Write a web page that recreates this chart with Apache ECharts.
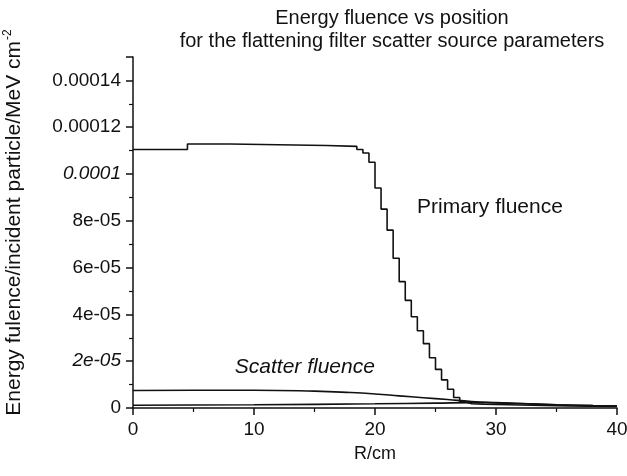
<!DOCTYPE html>
<html>
<head>
<meta charset="utf-8">
<script src="https://cdn.jsdelivr.net/npm/echarts@6/dist/echarts.min.js"></script>
<style>
html, body { margin: 0; padding: 0; background: #fff; }
#chart { width: 627px; height: 476px; }
</style>
</head>
<body>
<div id="chart"></div>
<script>
// primary fluence (step histogram), R in cm
var primaryR = [0, 4.5, 8, 12, 16, 18.5, 19, 19.5, 20, 20.5, 21, 21.5, 22, 22.5, 23, 23.5, 24, 24.5, 25, 25.5, 26, 26.5, 27, 27.5, 28, 29, 30, 31, 32, 33, 34, 35, 36, 38, 40];
var primaryFluence = [1.105e-4, 1.128e-4, 1.125e-4, 1.122e-4, 1.118e-4, 1.105e-4, 1.09e-4, 1.05e-4, 9.4e-5, 8.5e-5, 7.6e-5, 6.4e-5, 5.4e-5, 4.6e-5, 3.9e-5, 3.3e-5, 2.75e-5, 2.15e-5, 1.65e-5, 1.2e-5, 8.0e-6, 4.5e-6, 2.6e-6, 1.8e-6, 1.6e-6, 1.5e-6, 1.4e-6, 1.3e-6, 1.2e-6, 1.1e-6, 1.0e-6, 0.9e-6, 0.8e-6, 0.7e-6, 0.6e-6];

// scatter fluence curves
var scatterR = [0, 5, 10, 15, 18, 20, 22, 24, 26, 28, 30, 32, 35, 38, 40];
var scatterFluence = [7.5e-6, 7.6e-6, 7.6e-6, 7.2e-6, 6.6e-6, 6.0e-6, 5.2e-6, 4.4e-6, 3.6e-6, 2.8e-6, 2.3e-6, 1.9e-6, 1.4e-6, 1.0e-6, 0.8e-6];
var scatter2R = [0, 10, 20, 25, 28, 30, 32, 35, 38, 40];
var scatter2Fluence = [1.2e-6, 1.4e-6, 1.8e-6, 2.1e-6, 2.3e-6, 2.2e-6, 1.9e-6, 1.4e-6, 1.0e-6, 0.8e-6];

var yTickLabels = ['0', '2e-05', '4e-05', '6e-05', '8e-05', '0.0001', '0.00012', '0.00014'];
var italicTicks = ['2e-05', '0.0001'];

function pairs(xs, ys) {
	var out = [];
	for (var i = 0; i < xs.length; i++) out.push([xs[i], ys[i]]);
	return out;
}

var font = 'Liberation Sans, Arial, sans-serif';
var ink = '#111';

var myChart = echarts.init(document.getElementById('chart'));
myChart.setOption({
	animation: false,
	backgroundColor: '#fff',
	title: {
		text: 'Energy fluence vs position\nfor the flattening filter scatter source parameters',
		left: 387,
		top: 2,
		textAlign: 'center',
		textStyle: { fontFamily: font, fontSize: 20, fontWeight: 'normal', color: ink, lineHeight: 23 }
	},
	grid: { left: 133, right: 10, top: 57, bottom: 68, outerBoundsMode: 'none', containLabel: false },
	xAxis: {
		type: 'value',
		min: 0,
		max: 40,
		interval: 10,
		name: 'R/cm',
		nameLocation: 'middle',
		nameGap: 37,
		nameTextStyle: { fontFamily: font, fontSize: 18, color: ink },
		axisLine: { lineStyle: { color: ink, width: 1.5 } },
		axisTick: { inside: false, length: 7, lineStyle: { color: ink, width: 1.5 } },
		minorTick: { show: true, splitNumber: 2, length: 4, lineStyle: { color: ink, width: 1.2 } },
		axisLabel: { fontFamily: font, fontSize: 19, color: ink, margin: 12 },
		splitLine: { show: false }
	},
	yAxis: {
		type: 'value',
		min: 0,
		max: 0.00015,
		interval: 0.00002,
		name: 'Energy fulence/incident particle/MeV cm{sup|-2}',
		nameLocation: 'middle',
		nameGap: 107,
		nameRotate: 90,
		nameTextStyle: {
			fontFamily: font, fontSize: 21, color: ink,
			padding: [0, 0, 0, 20],
			rich: { sup: { fontFamily: font, fontSize: 12, color: ink, verticalAlign: 'top', padding: [0, 0, 12, 1] } }
		},
		axisLine: { show: true, lineStyle: { color: ink, width: 1.5 } },
		axisTick: { show: true, inside: false, length: 7, lineStyle: { color: ink, width: 1.5 } },
		minorTick: { show: true, splitNumber: 2, length: 4, lineStyle: { color: ink, width: 1.2 } },
		axisLabel: {
			fontFamily: font, fontSize: 19, color: ink, margin: 12,
			formatter: function (v) {
				var idx = Math.round(v / 0.00002);
				if (Math.abs(v - idx * 0.00002) > 1e-9 || idx >= yTickLabels.length) return '';
				var t = yTickLabels[idx];
				return italicTicks.indexOf(t) >= 0 ? '{it|' + t + '}' : t;
			},
			rich: { it: { fontFamily: font, fontSize: 19, color: ink, fontStyle: 'italic' } }
		},
		splitLine: { show: false }
	},
	series: [
		{
			name: 'Primary fluence',
			type: 'line',
			step: 'end',
			symbol: 'none',
			lineStyle: { color: ink, width: 1.6 },
			data: pairs(primaryR, primaryFluence),
			markPoint: {
				symbol: 'circle',
				symbolSize: 0,
				label: { show: true, formatter: 'Primary fluence', fontFamily: font, fontSize: 21, color: ink },
				data: [{ coord: [29.5, 8.6e-5] }]
			}
		},
		{
			name: 'Scatter fluence',
			type: 'line',
			smooth: true,
			symbol: 'none',
			lineStyle: { color: ink, width: 1.6 },
			data: pairs(scatterR, scatterFluence),
			markPoint: {
				symbol: 'circle',
				symbolSize: 0,
				label: { show: true, formatter: 'Scatter fluence', fontFamily: font, fontSize: 21, fontStyle: 'italic', color: ink },
				data: [{ coord: [14.2, 1.75e-5] }]
			}
		},
		{
			name: 'Scatter fluence 2',
			type: 'line',
			smooth: true,
			symbol: 'none',
			lineStyle: { color: ink, width: 1.6 },
			data: pairs(scatter2R, scatter2Fluence)
		}
	]
});
</script>
</body>
</html>
